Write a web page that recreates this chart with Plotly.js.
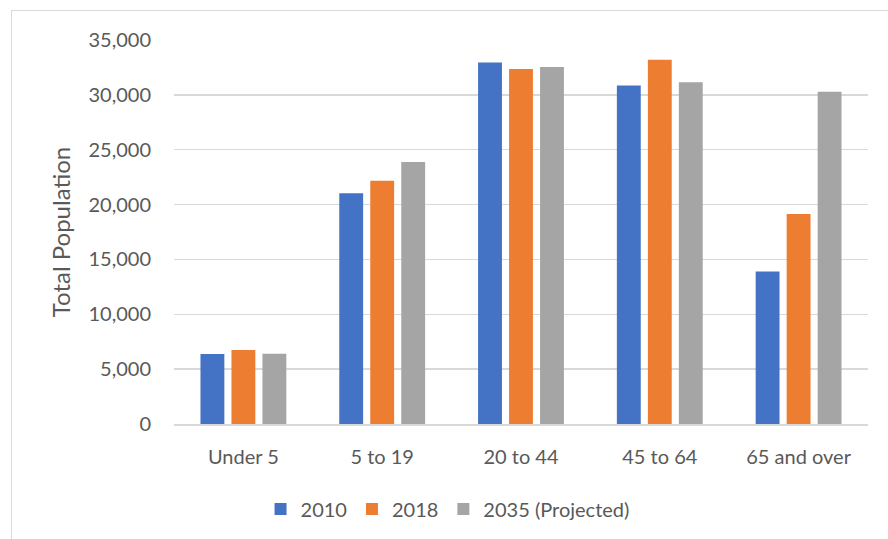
<!DOCTYPE html>
<html>
<head>
<meta charset="utf-8">
<script src="https://cdn.plot.ly/plotly-3.0.1.min.js"></script>
<style>
html,body{margin:0;padding:0;background:#fff;overflow:hidden;}
#frame{position:absolute;left:11px;top:10px;width:1000px;height:1000px;border:1px solid #d9d9d9;box-sizing:border-box;}
#chart{position:absolute;left:0;top:0;width:888px;height:539px;}
</style>
</head>
<body>
<div id="frame"></div>
<div id="chart"></div>
<script>
const categories = ["Under 5", "5 to 19", "20 to 44", "45 to 64", "65 and over"];
const seriesNames = ["2010", "2018", "2035 (Projected)"];
const values2010 = [6380, 21040, 32950, 30850, 13890];
const values2018 = [6750, 22160, 32350, 33190, 19150];
const values2035 = [6410, 23870, 32530, 31160, 30280];
const colors = ["#4472C4", "#ED7D31", "#A5A5A5"];
const yTickVals = [0, 5000, 10000, 15000, 20000, 25000, 30000, 35000];

const allValues = [values2010, values2018, values2035];
const traces = allValues.map((v, i) => ({
  type: "bar",
  name: seriesNames[i],
  x: categories,
  y: v,
  marker: {color: colors[i], line: {width: 0}},
  hoverinfo: "x+y+name"
}));

const font = {family: "Lato, 'Open Sans', sans-serif", color: "#595959", size: 20};
const titleFont = {family: "Lato, 'Open Sans', sans-serif", color: "#595959", size: 24};

const layout = {
  width: 888, height: 539,
  paper_bgcolor: "rgba(0,0,0,0)",
  plot_bgcolor: "rgba(0,0,0,0)",
  font: font,
  margin: {l: 174, r: 20, t: 40, b: 115},
  barmode: "group",
  bargap: 0.33,
  bargroupgap: 0.23,
  showlegend: true,
  legend: {
    orientation: "h",
    xref: "container", yref: "container",
    x: 0.504, xanchor: "center",
    y: 0.0557, yanchor: "middle",
    font: font,
    itemwidth: 30,
    traceorder: "normal"
  },
  xaxis: {
    type: "category",
    showgrid: false,
    showline: true,
    linecolor: "#d9d9d9",
    linewidth: 1.5,
    ticks: "",
    ticklabelstandoff: 14,
    tickfont: font,
    fixedrange: true
  },
  yaxis: {
    range: [0, 35000],
    tickvals: yTickVals,
    ticktext: yTickVals.map(v => v.toLocaleString("en-US")),
    showgrid: true,
    gridcolor: "#d9d9d9",
    gridwidth: 1.5,
    zeroline: false,
    showline: false,
    ticks: "",
    ticklabelstandoff: 22,
    tickfont: font,
    title: {text: "Total Population", font: titleFont, standoff: 11},
    fixedrange: true
  }
};

Plotly.newPlot("chart", traces, layout, {displayModeBar: false, staticPlot: true});
</script>
</body>
</html>
